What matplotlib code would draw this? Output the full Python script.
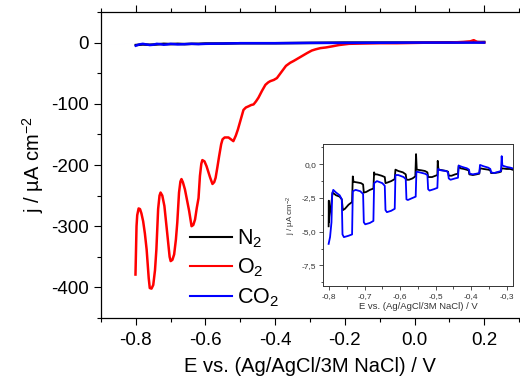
import matplotlib
matplotlib.use("Agg")
import matplotlib.pyplot as plt
from matplotlib.ticker import MultipleLocator, FixedLocator

plt.rcParams['font.family'] = ['Liberation Sans', 'DejaVu Sans']
plt.rcParams['axes.unicode_minus'] = False
plt.rcParams['mathtext.fontset'] = 'custom'
plt.rcParams['mathtext.rm'] = 'Liberation Sans'
plt.rcParams['mathtext.it'] = 'Liberation Sans:italic'
plt.rcParams['mathtext.bf'] = 'Liberation Sans:bold'
plt.rcParams['mathtext.default'] = 'regular'

# ---- main plot data (LSV) ----
o2_E = [-0.801, -0.798, -0.796, -0.792, -0.788, -0.784, -0.779, -0.774, -0.769, -0.763, -0.760,
        -0.755, -0.750, -0.745, -0.741, -0.736, -0.732, -0.729, -0.724, -0.718, -0.710, -0.703,
        -0.700, -0.695, -0.690, -0.685, -0.681, -0.676, -0.672, -0.669, -0.665, -0.659, -0.647,
        -0.640, -0.635, -0.630, -0.625, -0.620, -0.616, -0.612, -0.609, -0.603, -0.597, -0.587,
        -0.580, -0.575, -0.571, -0.566, -0.561, -0.555, -0.551, -0.545, -0.540, -0.534, -0.527,
        -0.520, -0.513, -0.507, -0.498, -0.491, -0.484, -0.476, -0.469, -0.462, -0.455, -0.448,
        -0.438, -0.428, -0.420, -0.414, -0.404, -0.395, -0.382, -0.369, -0.357, -0.347, -0.332,
        -0.320, -0.308, -0.295, -0.284, -0.270, -0.255, -0.235, -0.217, -0.188, -0.150, -0.100,
        -0.050, 0.000, 0.050, 0.100, 0.140, 0.160, 0.170, 0.180, 0.200]
o2_j = [-379, -300, -282, -271, -272, -279, -292, -312, -338, -385, -401,
        -402, -396, -372, -338, -272, -250, -245, -250, -267, -311, -350,
        -357, -355, -346, -322, -294, -245, -227, -223, -228, -240, -275,
        -300, -298, -289, -270, -254, -218, -198, -192, -194, -202, -220,
        -231, -228, -221, -204, -186, -166, -158, -155, -155, -155, -158,
        -161, -152, -142, -124, -110, -106, -104, -102, -101, -96, -90,
        -79, -69, -65, -63, -61, -58, -48, -38, -33, -30, -25,
        -21, -17, -13, -11, -9, -8, -6, -4, -2, -1.5, -1,
        -1, -0.5, 0, 0, 1, 2, 4, 1, 0]

n2_E = [-0.80, -0.78, -0.76, -0.74, -0.72, -0.70, -0.68, -0.66, -0.64, -0.62, -0.60,
        -0.55, -0.50, -0.40, -0.30, -0.20, 0.00, 0.20]
n2_j = [-4, -3, -3.5, -3, -2, -2.5, -2, -2.5, -2, -2, -1.5,
        -1.5, -1, -1, -0.5, 0, 0, 1]
co2_E = [-0.80, -0.79, -0.78, -0.77, -0.76, -0.75, -0.74, -0.73, -0.72, -0.71, -0.70,
         -0.68, -0.66, -0.64, -0.62, -0.60, -0.55, -0.50, -0.40, -0.30, -0.20, 0.00, 0.20]
co2_j = [-5, -3, -2, -3, -4, -3.5, -2, -2.5, -3.5, -3, -2,
         -3, -2.5, -2, -2.5, -2, -1.5, -1, -1, -0.5, -0.5, 0, 0]

# ---- inset data (chopped light) ----
n2i_E = [-0.801, -0.8005, -0.800, -0.799, -0.795, -0.792, -0.790, -0.780, -0.770, -0.764, -0.761,
         -0.755, -0.745, -0.735, -0.733, -0.731, -0.720, -0.710, -0.704, -0.702, -0.695,
         -0.685, -0.675, -0.673, -0.671, -0.665, -0.652, -0.643, -0.641, -0.635, -0.625,
         -0.615, -0.613, -0.605, -0.592, -0.584, -0.582, -0.575, -0.565, -0.557, -0.555,
         -0.553, -0.540, -0.530, -0.523, -0.521, -0.510, -0.500, -0.495, -0.494, -0.492,
         -0.480, -0.470, -0.465, -0.463, -0.455, -0.445, -0.437, -0.435, -0.430, -0.420,
         -0.407, -0.405, -0.395, -0.385, -0.377, -0.375, -0.365, -0.352, -0.346, -0.344,
         -0.335, -0.322, -0.316, -0.314, -0.300, -0.290, -0.284]
n2i_j = [-4.6, -2.7, -4.3, -3.9, -3.2, -2.6, -2.1, -2.3, -2.4, -2.6, -3.4,
         -3.3, -3.0, -2.8, -0.9, -1.3, -1.35, -1.4, -1.5, -2.1, -2.05,
         -1.9, -1.8, -0.6, -0.75, -0.75, -0.85, -0.95, -1.4, -1.35, -1.25,
         -1.1, -0.4, -0.5, -0.6, -0.75, -1.15, -1.15, -1.05, -0.9, 0.75,
         -0.4, -0.45, -0.5, -0.6, -0.95, -0.95, -0.85, -0.8, 0.25, -0.4,
         -0.45, -0.5, -0.55, -0.85, -0.85, -0.75, -0.7, -0.1, -0.3, -0.35,
         -0.45, -0.75, -0.8, -0.75, -0.7, -0.3, -0.35, -0.4, -0.45, -0.65,
         -0.65, -0.6, -0.55, -0.3, -0.35, -0.35, -0.4]

co2i_E = [-0.801, -0.797, -0.793, -0.791, -0.788, -0.780, -0.770, -0.764, -0.762, -0.758,
          -0.745, -0.735, -0.733, -0.725, -0.712, -0.704, -0.702, -0.698, -0.685, -0.675,
          -0.673, -0.665, -0.650, -0.643, -0.641, -0.637, -0.625, -0.615, -0.613, -0.605,
          -0.590, -0.584, -0.582, -0.578, -0.565, -0.556, -0.554, -0.545, -0.530, -0.523,
          -0.521, -0.517, -0.505, -0.495, -0.493, -0.485, -0.470, -0.465, -0.463, -0.458,
          -0.445, -0.437, -0.435, -0.425, -0.412, -0.406, -0.404, -0.395, -0.385, -0.377,
          -0.375, -0.365, -0.352, -0.346, -0.344, -0.335, -0.322, -0.316, -0.314, -0.312,
          -0.300, -0.290, -0.284]
co2i_j = [-5.9, -5.4, -4.3, -2.2, -1.9, -2.1, -2.3, -2.6, -5.2, -5.4,
          -5.3, -5.2, -2.0, -1.9, -2.0, -2.2, -4.3, -4.45, -4.35, -4.2,
          -1.4, -1.25, -1.4, -1.6, -3.4, -3.55, -3.45, -3.3, -0.8, -0.8,
          -0.95, -1.1, -2.6, -2.65, -2.5, -2.4, -0.55, -0.6, -0.7, -0.8,
          -1.85, -1.95, -1.85, -1.75, -0.35, -0.45, -0.5, -0.6, -1.05, -1.15,
          -1.05, -1.0, -0.1, -0.2, -0.3, -0.4, -0.7, -0.75, -0.7, -0.65,
          -0.05, -0.15, -0.25, -0.35, -0.6, -0.65, -0.55, -0.5, 0.6, -0.1,
          -0.2, -0.25, -0.3]

main_xticks = [-0.8, -0.6, -0.4, -0.2, 0.0, 0.2]
main_xticklabels = ['-0.8', '-0.6', '-0.4', '-0.2', '0.0', '0.2']
main_yticks = [0, -100, -200, -300, -400]
main_yticklabels = ['0', '-100', '-200', '-300', '-400']
inset_xticks = [-0.8, -0.7, -0.6, -0.5, -0.4, -0.3]
inset_xticklabels = ['-0,8', '-0,7', '-0,6', '-0,5', '-0,4', '-0,3']
inset_yticks = [0.0, -2.5, -5.0, -7.5]
inset_yticklabels = ['0,0', '-2,5', '-5,0', '-7,5']

fig = plt.figure(figsize=(5.2, 3.8), dpi=100)
W, H = 520, 380
ax = fig.add_axes([101 / W, 1 - 318 / H, 418 / W, 306 / H])
ax.plot(n2_E, n2_j, color='black', lw=1.8, label='N$_2$')
ax.plot(o2_E, o2_j, color='#ff0000', lw=1.8, label='O$_2$')
ax.plot(co2_E, co2_j, color='#0000ff', lw=1.8, label='CO$_2$')
ax.set_xlim(-0.9, 0.3)
ax.set_ylim(-450, 50)
ax.set_xticks(main_xticks)
ax.set_xticklabels(main_xticklabels)
ax.set_yticks(main_yticks)
ax.set_yticklabels(main_yticklabels)
ax.xaxis.set_minor_locator(MultipleLocator(0.1))
ax.yaxis.set_minor_locator(MultipleLocator(50))
ax.tick_params(which='both', direction='out', top=True, right=False, labelsize=13.5, width=0.8)
ax.tick_params(which='major', length=5)
ax.tick_params(which='minor', length=3)
ax.tick_params(axis='x', which='major', pad=5)
ax.spines['right'].set_visible(False)
for s in ax.spines.values():
    s.set_linewidth(0.9)
ax.set_xlabel('E vs. (Ag/AgCl/3M NaCl) / V', fontsize=14.5, labelpad=6)
ax.set_ylabel('j / µA cm$^{-2}$', fontsize=14.5, labelpad=4)
leg = ax.legend(loc='center left', bbox_to_anchor=(190 / W, 1 - 268 / H),
                bbox_transform=fig.transFigure, frameon=False, fontsize=15.5,
                handlelength=1.94, handletextpad=0.25, labelspacing=0.32,
                borderpad=0, borderaxespad=0)
for l in leg.get_lines():
    l.set_linewidth(1.5)

# inset
axi = fig.add_axes([323.3 / W, 1 - 285.7 / H, 189.4 / W, 141.7 / H])
axi.plot(n2i_E, n2i_j, color='black', lw=1.3)
axi.plot(co2i_E, co2i_j, color='#0000ff', lw=1.3)
axi.set_xlim(-0.816, -0.283)
axi.set_ylim(-9.0, 1.5)
axi.xaxis.set_major_locator(FixedLocator(inset_xticks))
axi.set_xticklabels(inset_xticklabels)
axi.yaxis.set_major_locator(FixedLocator(inset_yticks))
axi.set_yticklabels(inset_yticklabels)
axi.xaxis.set_minor_locator(MultipleLocator(0.05))
axi.yaxis.set_minor_locator(MultipleLocator(1.25))
axi.tick_params(which='both', direction='out', labelsize=6, colors='#333333', width=0.6, pad=2)
axi.tick_params(which='major', length=3)
axi.tick_params(which='minor', length=1.8)
for s in axi.spines.values():
    s.set_linewidth(0.7)
    s.set_color('#333333')
axi.set_xlabel('E vs. (Ag/AgCl/3M NaCl) / V', fontsize=6.8, color='#333333', labelpad=2)
axi.set_ylabel('j / µA cm$^{-2}$', fontsize=5.8, color='#333333', labelpad=3)

fig.savefig('out.png', dpi=100)
